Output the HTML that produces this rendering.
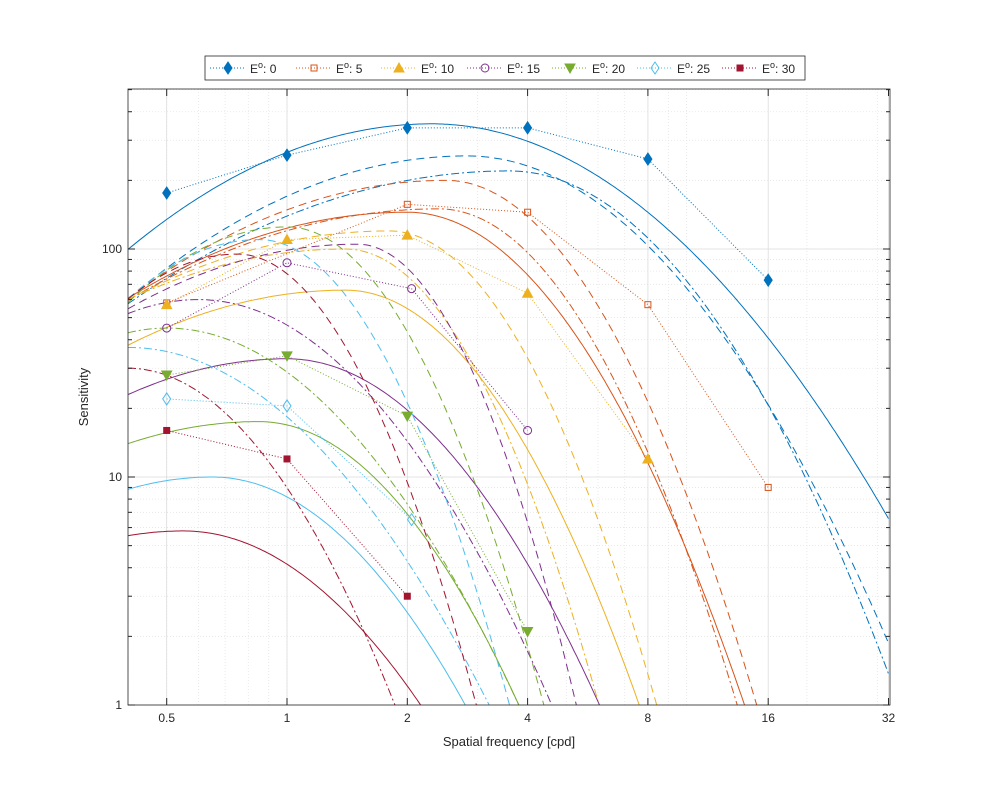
<!DOCTYPE html>
<html><head><meta charset="utf-8"><style>
html,body{margin:0;padding:0;background:#fff;width:984px;height:787px;overflow:hidden;}
svg{display:block;overflow:hidden;}
svg text{font-family:"Liberation Sans",Arial,sans-serif;fill:#262626;}
</style></head><body>
<svg id="s" width="984" height="787" viewBox="0 0 984 787" xmlns="http://www.w3.org/2000/svg"></svg>
<script>
const S=document.getElementById('s');
const L=128,R=890,T=89,B=705;
const X=f=>287+120.3*Math.log2(f);
const Y=v=>705-228*Math.log10(v);
let h='';
h+=`<rect x="${L}" y="${T}" width="${R-L}" height="${B-T}" fill="#fff"/>`;
for(let d of [0.1,1,10]){for(let m=1;m<10;m++){const f=d*m;if(f<0.4||f>32)continue;const x=X(f);
 h+=`<line x1="${x}" y1="${T}" x2="${x}" y2="${B}" stroke="#e4e4e4" stroke-width="0.8" stroke-dasharray="1,2"/>`;}}
for(let d of [1,10,100]){for(let m=1;m<10;m++){const v=d*m;if(v>503)continue;const y=Y(v);
 h+=`<line x1="${L}" y1="${y}" x2="${R}" y2="${y}" stroke="#e4e4e4" stroke-width="0.8" stroke-dasharray="1,2"/>`;}}
for(let f of [0.5,1,2,4,8,16,32]){const x=X(f);h+=`<line x1="${x}" y1="${T}" x2="${x}" y2="${B}" stroke="#dcdcdc" stroke-width="0.8"/>`;}
for(let v of [1,10,100]){const y=Y(v);h+=`<line x1="${L}" y1="${y}" x2="${R}" y2="${y}" stroke="#dcdcdc" stroke-width="0.8"/>`;}
const C=['#0072BD','#D95319','#EDB120','#7E2F8E','#77AC30','#4DBEEE','#A2142F'];
const curves=[
[0,'s',2.3,354,0.0865,0.12],[0,'d',2.82,256,0.079,0.174],[0,'dd',3.6,220,0.058,0.222],
[1,'s',2.0,145,0.07,0.275],[1,'d',2.5,200,0.074,0.345],[1,'dd',2.4,150,0.06,0.354],
[2,'s',1.4,66,0.074,0.305],[2,'d',1.8,120,0.064,0.42],[2,'dd',1.4,100,0.068,0.45],
[3,'s',1.0,33,0.09,0.225],[3,'d',1.5,105,0.078,0.61],[3,'dd',0.6,60,0.18,0.206],
[4,'s',0.85,17.5,0.082,0.266],[4,'d',1.0,125,0.19,0.46],[4,'dd',0.5,45,0.2,0.193],
[5,'s',0.65,10,0.11,0.226],[5,'d',0.85,110,0.22,0.47],[5,'dd',0.4,37,0.2,0.174],
[6,'s',0.55,5.8,0.1,0.196],[6,'d',0.75,95,0.24,0.5],[6,'dd',0.4,30,0.2,0.3]];
let cv='';
for(const [ci,st,fp,P,kL,kR] of curves){
 let pts=[];
 for(let i=0;i<=300;i++){const lf=Math.log2(0.4)+i*(Math.log2(32)-Math.log2(0.4))/300;const d=lf-Math.log2(fp);
  const k=d<0?kL:kR;const lv=Math.log10(P)-k*d*d;let y=705-228*lv;let x=287+120.3*lf;
  if(y>B+5){pts.push(x.toFixed(1)+','+(B+5));break;}
  pts.push(x.toFixed(1)+','+y.toFixed(1));}
 const da=st=='d'?'8,5':st=='dd'?'8,3,2,3':'none';
 cv+=`<polyline points="${pts.join(' ')}" fill="none" stroke="${C[ci]}" stroke-width="1" stroke-dasharray="${da}"/>`;
}
h+=`<clipPath id="cp"><rect x="${L}" y="${T}" width="${R-L}" height="${B-T}"/></clipPath><g clip-path="url(#cp)">${cv}</g>`;
function mk(t,x,y,c){
 switch(t){
 case 'dF':return `<polygon points="${x},${y-6} ${x+4},${y} ${x},${y+6} ${x-4},${y}" fill="${c}" stroke="${c}"/>`;
 case 'dO':return `<polygon points="${x},${y-6} ${x+4},${y} ${x},${y+6} ${x-4},${y}" fill="none" stroke="${c}"/>`;
 case 'sO':return `<rect x="${x-3}" y="${y-3}" width="6" height="6" fill="none" stroke="${c}"/>`;
 case 'sF':return `<rect x="${x-3}" y="${y-3}" width="6" height="6" fill="${c}" stroke="${c}"/>`;
 case 'tF':return `<polygon points="${x},${y-5} ${x+5},${y+4} ${x-5},${y+4}" fill="${c}" stroke="${c}"/>`;
 case 'vF':return `<polygon points="${x},${y+5} ${x+5},${y-4} ${x-5},${y-4}" fill="${c}" stroke="${c}"/>`;
 case 'cO':return `<circle cx="${x}" cy="${y}" r="4" fill="none" stroke="${c}"/>`;}
}
const data=[
['dF',[[0.5,176],[1,258],[2,340],[4,340],[8,248],[16,73]]],
['sO',[[0.5,58],[2,157],[4,145],[8,57],[16,9]]],
['tF',[[0.5,57],[1,110],[2,115],[4,64],[8,12]]],
['cO',[[0.5,45],[1,87],[2.05,67],[4,16]]],
['vF',[[0.5,28],[1,34],[2,18.5],[4,2.1]]],
['dO',[[0.5,22],[1,20.5],[2.05,6.5]]],
['sF',[[0.5,16],[1,12],[2,3]]]];
data.forEach(([t,p],i)=>{const pts=p.map(([f,v])=>[X(f),Y(v)]);
 h+=`<polyline points="${pts.map(q=>q.join(',')).join(' ')}" fill="none" stroke="${C[i]}" stroke-width="1" stroke-dasharray="1,2"/>`;
 pts.forEach(q=>h+=mk(t,q[0],q[1],C[i]));});
h+=`<rect x="${L}" y="${T}" width="${R-L}" height="${B-T}" fill="none" stroke="#262626" stroke-width="0.8"/>`;
for(let f of [0.5,1,2,4,8,16,32]){const x=X(f);h+=`<line x1="${x}" y1="${B}" x2="${x}" y2="${B-7}" stroke="#262626"/><line x1="${x}" y1="${T}" x2="${x}" y2="${T+7}" stroke="#262626"/><text x="${x}" y="722" font-size="12" text-anchor="middle">${f}</text>`;}
for(let d of [1,10,100]){for(let m=1;m<10;m++){const v=d*m;if(v>503)continue;const y=Y(v);const len=m==1?7:4;
 h+=`<line x1="${L}" y1="${y}" x2="${L+len}" y2="${y}" stroke="#262626"/><line x1="${R}" y1="${y}" x2="${R-len}" y2="${y}" stroke="#262626"/>`;}}
for(let v of [1,10,100])h+=`<text x="${L-6}" y="${Y(v)+4}" font-size="12" text-anchor="end">${v}</text>`;
h+=`<text x="509" y="746" font-size="13" text-anchor="middle">Spatial frequency [cpd]</text>`;
h+=`<text transform="translate(88,397) rotate(-90)" font-size="13" text-anchor="middle">Sensitivity</text>`;
h+=`<rect x="205" y="56" width="600" height="24" fill="#fff" stroke="#262626" stroke-width="0.8"/>`;
const lx=[210,296,381,467,552,637,722];const labs=[0,5,10,15,20,25,30];
data.forEach(([t],i)=>{const x=lx[i];h+=`<line x1="${x}" y1="68" x2="${x+36}" y2="68" stroke="${C[i]}" stroke-dasharray="1,2"/>`+mk(t,x+18,68,C[i])+`<text x="${x+40}" y="73" font-size="12">E<tspan font-size="9" dy="-5">o</tspan><tspan dy="5">: ${labs[i]}</tspan></text>`;});
S.innerHTML=h;
</script>
</body></html>
